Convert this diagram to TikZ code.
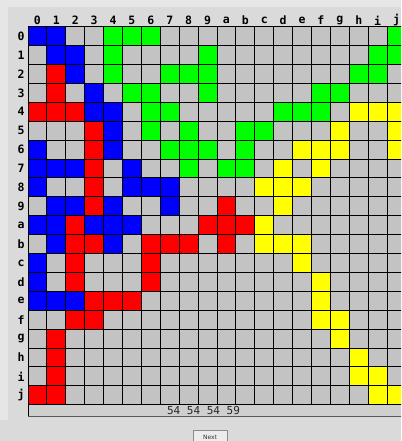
\documentclass[tikz,border=0pt]{standalone}
\usepackage{fontspec}
\newfontfamily\monof{DejaVu Sans Mono}
\newfontfamily\sansf{DejaVu Sans}
\definecolor{bg}{HTML}{DADADA}
\definecolor{bgl}{HTML}{E6E6E6}
\definecolor{cn}{HTML}{C3C3C3}
\definecolor{cB}{HTML}{0000FF}
\definecolor{cR}{HTML}{FF0000}
\definecolor{cG}{HTML}{00FF00}
\definecolor{cY}{HTML}{FFFF00}
\definecolor{stripc}{HTML}{CFCFCF}
\definecolor{btnc}{HTML}{ECECEC}
\tikzset{
  axislabel/.style={font=\monof\bfseries\fontsize{11.5}{11.5}\selectfont, text=black, inner sep=0pt, anchor=center},
  gridline/.style={draw=black, line width=1pt},
  scoretext/.style={font=\monof\fontsize{11}{11}\selectfont, text=black!85, inner sep=0pt},
  buttonbox/.style={draw=black!45, fill=btnc, line width=0.8pt},
  buttontext/.style={font=\sansf\fontsize{6}{6}\selectfont, text=black!80, inner sep=0pt}
}
\def\cs{18.9}
\def\gx{28}
\def\gy{26.7}
\begin{document}
\begin{tikzpicture}[x=1pt,y=-1pt]
\useasboundingbox (0,0) rectangle (401,441);
\clip (0,0) rectangle (401,441);
\fill[bg] (0,0) rectangle (401,441);
\fill[bgl] (0,0) rectangle (401,7);
\fill[bgl] (0,0) rectangle (8,420);
% cells
\foreach \rowlist [count=\r from 0] in {
 {B,B,n,n,G,G,G,n,n,n,n,n,n,n,n,n,n,n,n,G},
 {n,B,B,n,G,n,n,n,n,G,n,n,n,n,n,n,n,n,G,G},
 {n,R,B,n,G,n,n,G,G,G,n,n,n,n,n,n,n,G,G,n},
 {n,R,n,B,n,G,G,n,n,G,n,n,n,n,n,G,G,n,n,n},
 {R,R,R,B,B,n,G,G,n,n,n,n,n,G,G,G,n,Y,Y,Y},
 {n,n,n,R,B,n,G,n,G,n,n,G,G,n,n,n,Y,n,n,Y},
 {B,n,n,R,B,n,n,G,G,G,n,G,n,n,Y,Y,Y,n,n,Y},
 {B,B,B,R,n,B,n,n,G,n,G,G,n,Y,n,Y,n,n,n,n},
 {B,n,n,R,n,B,B,B,n,n,n,n,Y,Y,Y,n,n,n,n,n},
 {n,B,B,R,B,n,n,B,n,n,R,n,n,Y,n,n,n,n,n,n},
 {B,B,R,B,B,B,n,n,n,R,R,R,Y,n,n,n,n,n,n,n},
 {n,B,R,R,B,n,R,R,R,n,R,n,Y,Y,Y,n,n,n,n,n},
 {B,n,R,n,n,n,R,n,n,n,n,n,n,n,Y,n,n,n,n,n},
 {B,n,R,n,n,n,R,n,n,n,n,n,n,n,n,Y,n,n,n,n},
 {B,B,B,R,R,R,n,n,n,n,n,n,n,n,n,Y,n,n,n,n},
 {n,n,R,R,n,n,n,n,n,n,n,n,n,n,n,Y,Y,n,n,n},
 {n,R,n,n,n,n,n,n,n,n,n,n,n,n,n,n,Y,n,n,n},
 {n,R,n,n,n,n,n,n,n,n,n,n,n,n,n,n,n,Y,n,n},
 {n,R,n,n,n,n,n,n,n,n,n,n,n,n,n,n,n,Y,Y,n},
 {R,R,n,n,n,n,n,n,n,n,n,n,n,n,n,n,n,n,Y,Y}}{
  \foreach \cc [count=\k from 0] in \rowlist {
    \fill[fill=c\cc] ({\gx+\k*\cs},{\gy+\r*\cs}) rectangle ++(\cs,\cs);
  }
}
% score strip
\fill[stripc] (\gx,{\gy+20*\cs}) rectangle (412,416);
\draw[draw=black!65, line width=1pt] (\gx,416) -- (412,416);
% grid lines
\foreach \i in {0,...,20}{
  \draw[gridline] ({\gx+\i*\cs},\gy) -- ++(0,{20*\cs});
  \draw[gridline] (\gx,{\gy+\i*\cs}) -- ++({20*\cs},0);
}
\draw[gridline] (\gx,\gy) -- (\gx,416);
% axis labels
\foreach \l [count=\i from 0] in {0,1,2,3,4,5,6,7,8,9,a,b,c,d,e,f,g,h,i,j}{
  \node[axislabel] (top\i) at ({\gx+(\i+0.5)*\cs},20.5) {\l};
  \node[axislabel] (left\i) at (21,{\gy+(\i+0.5)*\cs}) {\l};
}
% scores
\node[scoretext] (scores) at (203.5,410.5) {54 54 54 59};
% button
\draw[buttonbox] (193,430) rectangle (227,448);
\node[buttontext] (next) at (210,437.5) {Next};
\end{tikzpicture}
\end{document}
